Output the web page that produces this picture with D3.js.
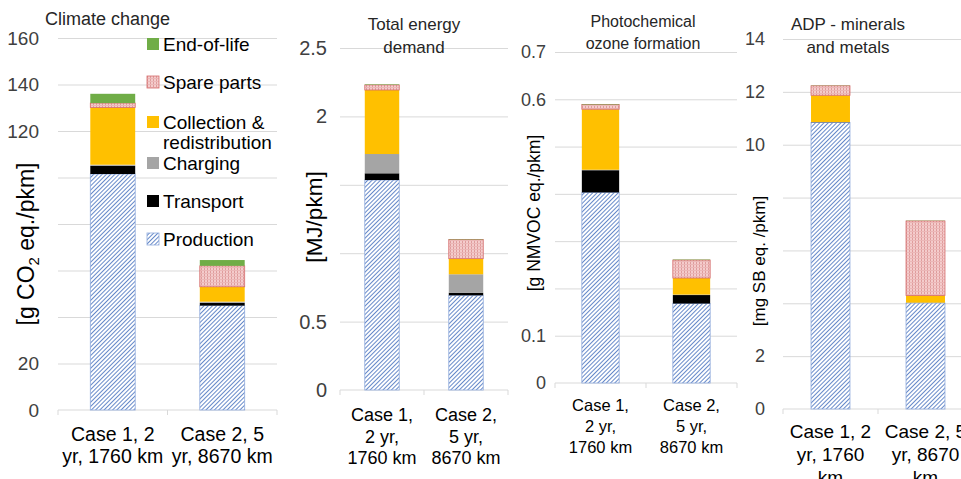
<!DOCTYPE html>
<html lang="en">
<head>
<meta charset="UTF-8">
<title>Life cycle impacts</title>
<script src="https://d3js.org/d3.v7.min.js"></script>
<style>
  body { margin: 0; background: #fff; }
  svg text { font-family: "Liberation Sans", Arial, sans-serif; fill: #000; }
  .grid line { stroke: #d9d9d9; }
  .grid path { display: none; }
</style>
</head>
<body>
<div id="chart"></div>
<script>
// stages, bottom to top of each stack
const stages = ["Production", "Transport", "Charging", "Collection & redistribution", "Spare parts", "End-of-life"];
const cases = ["Case 1", "Case 2"];

// values per stage: [case 1, case 2]
const climateValues = [[101.5, 44.9], [3.5, 1.2], [0.5, 0.5], [24.6, 6.4], [1.9, 9.0], [4.0, 2.5]];
const energyValues = [[1.535, 0.692], [0.049, 0.019], [0.141, 0.135], [0.468, 0.114], [0.037, 0.14], [0.004, 0.003]];
const ozoneValues = [[0.403, 0.168], [0.047, 0.018], [0.001, 0.001], [0.128, 0.035], [0.010, 0.038], [0.001, 0.001]];
const adpValues = [[10.84, 4.01], [0.01, 0.005], [0.01, 0.01], [1.01, 0.27], [0.36, 2.82], [0.01, 0.01]];

// tick labels that show (the rest sit under the axis title)
const climateTicks = [0, 20, 120, 140, 160];
const energyTicks = [0, 0.5, 2, 2.5];
const ozoneTicks = [0, 0.1, 0.6, 0.7];
const adpTicks = [0, 2, 10, 12, 14];

const legendLabels = [["End-of-life"], ["Spare parts"], ["Collection &", "redistribution"], ["Charging"], ["Transport"], ["Production"]];

const width = 961, height = 479;

const svg = d3.select("#chart").append("svg")
    .attr("width", width)
    .attr("height", height);

// fills
const defs = svg.append("defs");
const hatch = defs.append("pattern")
    .attr("id", "hatch")
    .attr("patternUnits", "userSpaceOnUse")
    .attr("width", 3).attr("height", 3)
    .attr("patternTransform", "rotate(45)");
hatch.append("rect").attr("width", 3).attr("height", 3).attr("fill", "#fff");
hatch.append("line")
    .attr("x1", 0).attr("y1", 0).attr("x2", 0).attr("y2", 3)
    .attr("stroke", "#4a74c0").attr("stroke-width", 1.7);

const dots = defs.append("pattern")
    .attr("id", "dots")
    .attr("patternUnits", "userSpaceOnUse")
    .attr("width", 3).attr("height", 3);
dots.append("rect").attr("width", 3).attr("height", 3).attr("fill", "#f4cccc");
dots.append("rect").attr("width", 1).attr("height", 3).attr("fill", "#df9c9c");
dots.append("rect").attr("width", 3).attr("height", 1).attr("fill", "#ebb7b7");

const fills = {
    "Production": "url(#hatch)",
    "Transport": "#000",
    "Charging": "#a5a5a5",
    "Collection & redistribution": "#ffc000",
    "Spare parts": "url(#dots)",
    "End-of-life": "#70ad47"
};
const strokes = {
    "Production": "#8faadc",
    "Spare parts": "#d46a6a"
};

const panels = [
    {
        values: climateValues, max: 160, step: 20, ticks: climateTicks,
        x0: 58, x1: 277, yTop: 38, yBottom: 410, tickSize: 19, tickGap: 19,
        title: ["Climate change"], titleX: 45, titleY: 25, titleAnchor: "start", titleSize: 18,
        axisTitle: "co2", axisX: 26, axisY: 244, axisSize: 23,
        cats: [["Case 1, 2", "yr, 1760 km"], ["Case 2, 5", "yr, 8670 km"]],
        catY: 441, catSize: 19.5, catDy: 22
    },
    {
        values: energyValues, max: 2.5, step: 0.5, ticks: energyTicks,
        x0: 340, x1: 508, yTop: 48, yBottom: 390, tickSize: 20, tickGap: 13,
        title: ["Total energy", "demand"], titleX: 414, titleY: 30, titleAnchor: "middle", titleSize: 17,
        axisTitle: "[MJ/pkm]", axisX: 314, axisY: 217, axisSize: 22.5,
        cats: [["Case 1,", "2 yr,", "1760 km"], ["Case 2,", "5 yr,", "8670 km"]],
        catY: 421, catSize: 18, catDy: 21.5
    },
    {
        values: ozoneValues, max: 0.7, step: 0.1, ticks: ozoneTicks,
        x0: 555, x1: 737, yTop: 52, yBottom: 383, tickSize: 18, tickGap: 9,
        title: ["Photochemical", "ozone formation"], titleX: 643, titleY: 27, titleAnchor: "middle", titleSize: 16,
        axisTitle: "[g NMVOC eq./pkm]", axisX: 534, axisY: 213, axisSize: 17.5,
        cats: [["Case 1,", "2 yr,", "1760 km"], ["Case 2,", "5 yr,", "8670 km"]],
        catY: 411, catSize: 16.5, catDy: 21
    },
    {
        values: adpValues, max: 14, step: 2, ticks: adpTicks,
        x0: 783, x1: 973, yTop: 39, yBottom: 409, tickSize: 18, tickGap: 18,
        title: ["ADP - minerals", "and metals"], titleX: 848, titleY: 30, titleAnchor: "middle", titleSize: 17,
        axisTitle: "[mg SB eq. /pkm]", axisX: 759, axisY: 261, axisSize: 17,
        cats: [["Case 1, 2", "yr, 1760", "km"], ["Case 2, 5", "yr, 8670", "km"]],
        catY: 438, catSize: 19, catDy: 23
    }
];

panels.forEach(p => {
    const g = svg.append("g");

    const x = d3.scaleBand().domain(cases).range([p.x0, p.x1]).padding(0);
    const y = d3.scaleLinear().domain([0, p.max]).range([p.yBottom, p.yTop]);
    const barW = x.bandwidth() * 0.41;

    // gridlines
    g.append("g")
        .attr("class", "grid")
        .attr("transform", `translate(${p.x0},0)`)
        .call(d3.axisLeft(y)
            .tickValues(d3.range(p.step, p.max + p.step / 2, p.step))
            .tickSize(-(p.x1 - p.x0))
            .tickFormat(""));

    // category axis line + separators
    const base = g.append("g").attr("transform", `translate(0,${p.yBottom})`);
    base.append("line").attr("x1", p.x0).attr("x2", p.x1).attr("stroke", "#d9d9d9");
    base.selectAll(".sep")
        .data([p.x0, p.x0 + x.bandwidth(), p.x1])
        .join("line")
        .attr("x1", d => d).attr("x2", d => d)
        .attr("y1", 0).attr("y2", 5)
        .attr("stroke", "#d9d9d9");

    // tick labels
    g.append("g")
        .selectAll("text")
        .data(p.ticks)
        .join("text")
        .attr("x", p.x0 - p.tickGap)
        .attr("y", d => y(d))
        .attr("dy", "0.35em")
        .attr("text-anchor", "end")
        .style("font-size", p.tickSize + "px")
        .style("fill", "#404040")
        .text(d => d);

    // stacked bars
    const rows = cases.map((c, i) => {
        const r = { case: c };
        stages.forEach((s, k) => { r[s] = p.values[k][i]; });
        return r;
    });
    const stacked = d3.stack().keys(stages)(rows);

    g.append("g")
        .selectAll("g")
        .data(stacked)
        .join("g")
        .attr("fill", d => fills[d.key])
        .attr("stroke", d => strokes[d.key] || "none")
        .attr("stroke-width", 0.8)
        .selectAll("rect")
        .data(d => d)
        .join("rect")
        .attr("x", d => x(d.data.case) + (x.bandwidth() - barW) / 2)
        .attr("width", barW)
        .attr("y", d => y(d[1]))
        .attr("height", d => y(d[0]) - y(d[1]));

    // panel title
    const t = g.append("text")
        .attr("x", p.titleX)
        .attr("y", p.titleY)
        .attr("text-anchor", p.titleAnchor)
        .style("font-size", p.titleSize + "px")
        .style("fill", "#262626");
    p.title.forEach((line, i) => {
        t.append("tspan").attr("x", p.titleX).attr("dy", i ? "1.35em" : 0).text(line);
    });

    // y axis title
    const at = g.append("text")
        .attr("transform", `translate(${p.axisX},${p.axisY}) rotate(-90)`)
        .attr("text-anchor", "middle")
        .attr("dy", "0.35em")
        .style("font-size", p.axisSize + "px");
    if (p.axisTitle === "co2") {
        at.append("tspan").text("[g CO");
        at.append("tspan").attr("dy", "0.3em").style("font-size", "0.65em").text("2");
        at.append("tspan").attr("dy", "-0.2em").text(" eq./pkm]");
    } else {
        at.text(p.axisTitle);
    }

    // category labels
    g.append("g")
        .selectAll("text")
        .data(cases)
        .join("text")
        .attr("text-anchor", "middle")
        .style("font-size", p.catSize + "px")
        .each(function (c, i) {
            const cx = x(c) + x.bandwidth() / 2;
            d3.select(this).selectAll("tspan")
                .data(p.cats[i])
                .join("tspan")
                .attr("x", cx)
                .attr("y", (d, k) => p.catY + k * p.catDy)
                .text(d => d);
        });

    // legend only in the first panel
    if (p === panels[0]) {
        const legendY = [44, 82, 122, 163, 201, 239];
        const order = stages.slice().reverse();
        const lg = g.append("g");
        order.forEach((s, i) => {
            lg.append("rect")
                .attr("x", 147).attr("y", legendY[i] - 6)
                .attr("width", 12).attr("height", 12)
                .attr("fill", fills[s])
                .attr("stroke", strokes[s] || "none")
                .attr("stroke-width", 0.8);
            const lt = lg.append("text")
                .attr("x", 163).attr("y", legendY[i])
                .style("font-size", "19px");
            legendLabels[i].forEach((line, k) => {
                lt.append("tspan").attr("x", 163).attr("dy", k ? "1.05em" : "0.35em").text(line);
            });
        });
    }
});
</script>
</body>
</html>
